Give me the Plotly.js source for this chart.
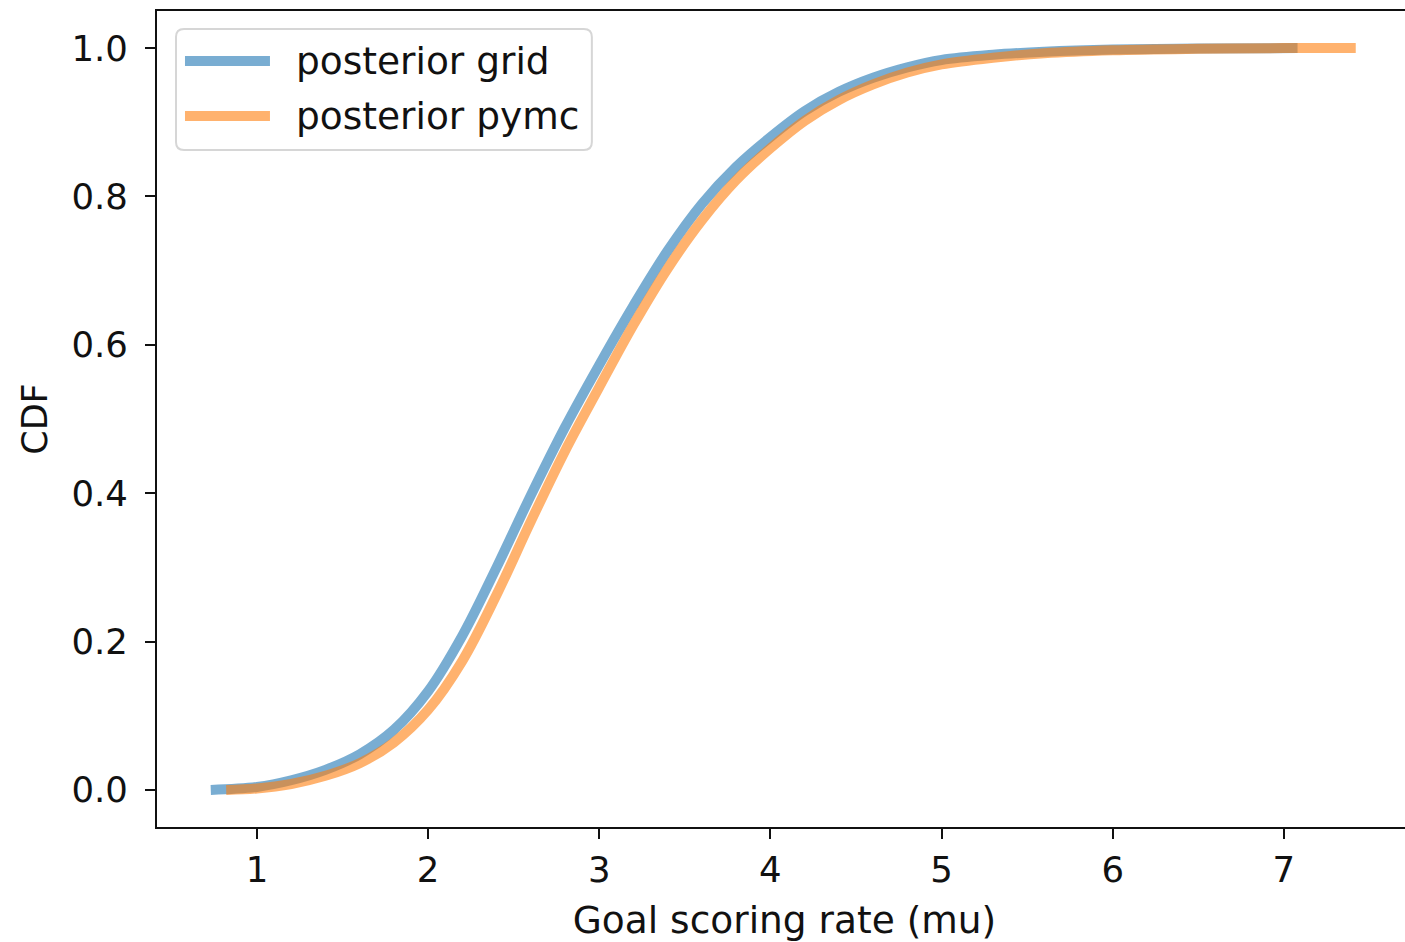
<!DOCTYPE html>
<html>
<head>
<meta charset="utf-8">
<script src="https://cdn.plot.ly/plotly-3.0.1.min.js"></script>
<style>
html, body { margin: 0; padding: 0; overflow: hidden; background: #fff; }
#chart { width: 1420px; height: 942px; }
</style>
</head>
<body>
<div id="chart"></div>
<script>
// ---- data ----
const seriesNames = ['posterior grid', 'posterior pymc'];

const gridX   = [0.73, 1.0, 1.2, 1.4, 1.6, 1.8, 2.0, 2.2, 2.4, 2.6, 2.8, 3.0, 3.2, 3.4, 3.6, 3.8, 4.0, 4.2, 4.4, 4.6, 4.8, 5.0, 5.3, 5.6, 6.0, 6.5, 7.08];
const gridCdf = [0.0, 0.004, 0.013, 0.027, 0.048, 0.081, 0.133, 0.208, 0.300, 0.397, 0.489, 0.573, 0.653, 0.727, 0.790, 0.840, 0.880, 0.915, 0.941, 0.960, 0.974, 0.984, 0.991, 0.995, 0.998, 0.9995, 1.0];

const pymcX   = [0.82, 1.0, 1.2, 1.4, 1.6, 1.8, 2.0, 2.2, 2.4, 2.6, 2.8, 3.0, 3.2, 3.4, 3.6, 3.8, 4.0, 4.2, 4.4, 4.6, 4.8, 5.0, 5.3, 5.6, 6.0, 6.5, 7.0, 7.42];
const pymcCdf = [0.0, 0.002, 0.008, 0.019, 0.036, 0.064, 0.108, 0.174, 0.263, 0.362, 0.457, 0.543, 0.627, 0.703, 0.768, 0.822, 0.865, 0.902, 0.930, 0.951, 0.967, 0.978, 0.987, 0.993, 0.997, 0.999, 1.0, 1.0];

const yTicks = [0.0, 0.2, 0.4, 0.6, 0.8, 1.0];
const xTicks = [1, 2, 3, 4, 5, 6, 7];

// ---- styling ----
const blue = 'rgba(31,119,180,0.6)';
const orange = 'rgba(255,127,14,0.6)';
const FONT = 'DejaVu Sans, sans-serif';
const W = 1420, H = 942;
const M = {l: 157, r: 7.6, t: 11, b: 115.4};
const PW = W - M.l - M.r, PH = H - M.t - M.b;
const px2x = p => (p - M.l) / PW;
const px2y = p => (H - M.b - p) / PH;

const traces = [
  {x: gridX, y: gridCdf, name: seriesNames[0], type: 'scatter', mode: 'lines',
   line: {color: blue, width: 10, shape: 'spline', smoothing: 1}, showlegend: false},
  {x: pymcX, y: pymcCdf, name: seriesNames[1], type: 'scatter', mode: 'lines',
   line: {color: orange, width: 10, shape: 'spline', smoothing: 1}, showlegend: false}
];

// custom legend (matplotlib look)
const lx0 = px2x(176), lx1 = px2x(592), ly0 = px2y(150), ly1 = px2y(29);
const rx = 8 / PW, ry = 8 / PH;
const rounded = `M ${lx0 + rx},${ly0} L ${lx1 - rx},${ly0} Q ${lx1},${ly0} ${lx1},${ly0 + ry} ` +
  `L ${lx1},${ly1 - ry} Q ${lx1},${ly1} ${lx1 - rx},${ly1} L ${lx0 + rx},${ly1} ` +
  `Q ${lx0},${ly1} ${lx0},${ly1 - ry} L ${lx0},${ly0 + ry} Q ${lx0},${ly0} ${lx0 + rx},${ly0} Z`;

const shapes = [
  {type: 'path', xref: 'paper', yref: 'paper', path: rounded,
   fillcolor: 'rgba(255,255,255,0.8)', line: {color: '#d6d6d6', width: 2}},
  {type: 'line', xref: 'paper', yref: 'paper', x0: px2x(185), x1: px2x(270), y0: px2y(61), y1: px2y(61),
   line: {color: blue, width: 10}},
  {type: 'line', xref: 'paper', yref: 'paper', x0: px2x(185), x1: px2x(270), y0: px2y(116), y1: px2y(116),
   line: {color: orange, width: 10}}
];

const annotations = [
  {xref: 'paper', yref: 'paper', x: px2x(294), y: px2y(61), xanchor: 'left', yanchor: 'middle',
   text: seriesNames[0], showarrow: false, font: {family: FONT, size: 37.5, color: '#111'}},
  {xref: 'paper', yref: 'paper', x: px2x(294), y: px2y(116), xanchor: 'left', yanchor: 'middle',
   text: seriesNames[1], showarrow: false, font: {family: FONT, size: 37.5, color: '#111'}}
];

const layout = {
  width: W, height: H,
  margin: M,
  paper_bgcolor: '#fff', plot_bgcolor: '#fff',
  font: {family: FONT, color: '#111', size: 35},
  showlegend: false,
  xaxis: {
    range: [0.4158, 0.4158 + PW / 171.2],
    tickvals: xTicks, ticktext: xTicks.map(String),
    ticks: 'outside', ticklen: 10, tickwidth: 2, tickcolor: '#111',
    showline: true, linecolor: '#111', linewidth: 2, mirror: true,
    showgrid: false, zeroline: false,
    tickfont: {family: FONT, size: 35.5, color: '#111'},
    title: {text: 'Goal scoring rate (mu)', font: {family: FONT, size: 37.5, color: '#111'}, standoff: 18}
  },
  yaxis: {
    range: [-0.05, 1.05],
    tickvals: yTicks, ticktext: yTicks.map(v => v.toFixed(1)),
    ticks: 'outside', ticklen: 10, tickwidth: 2, tickcolor: '#111',
    ticklabelstandoff: 10,
    showline: true, linecolor: '#111', linewidth: 2, mirror: true,
    showgrid: false, zeroline: false,
    tickfont: {family: FONT, size: 35.5, color: '#111'},
    title: {text: 'CDF', font: {family: FONT, size: 35, color: '#111'}, standoff: 13}
  },
  shapes: shapes,
  annotations: annotations
};

Plotly.newPlot('chart', traces, layout, {staticPlot: true, displayModeBar: false});
</script>
</body>
</html>
